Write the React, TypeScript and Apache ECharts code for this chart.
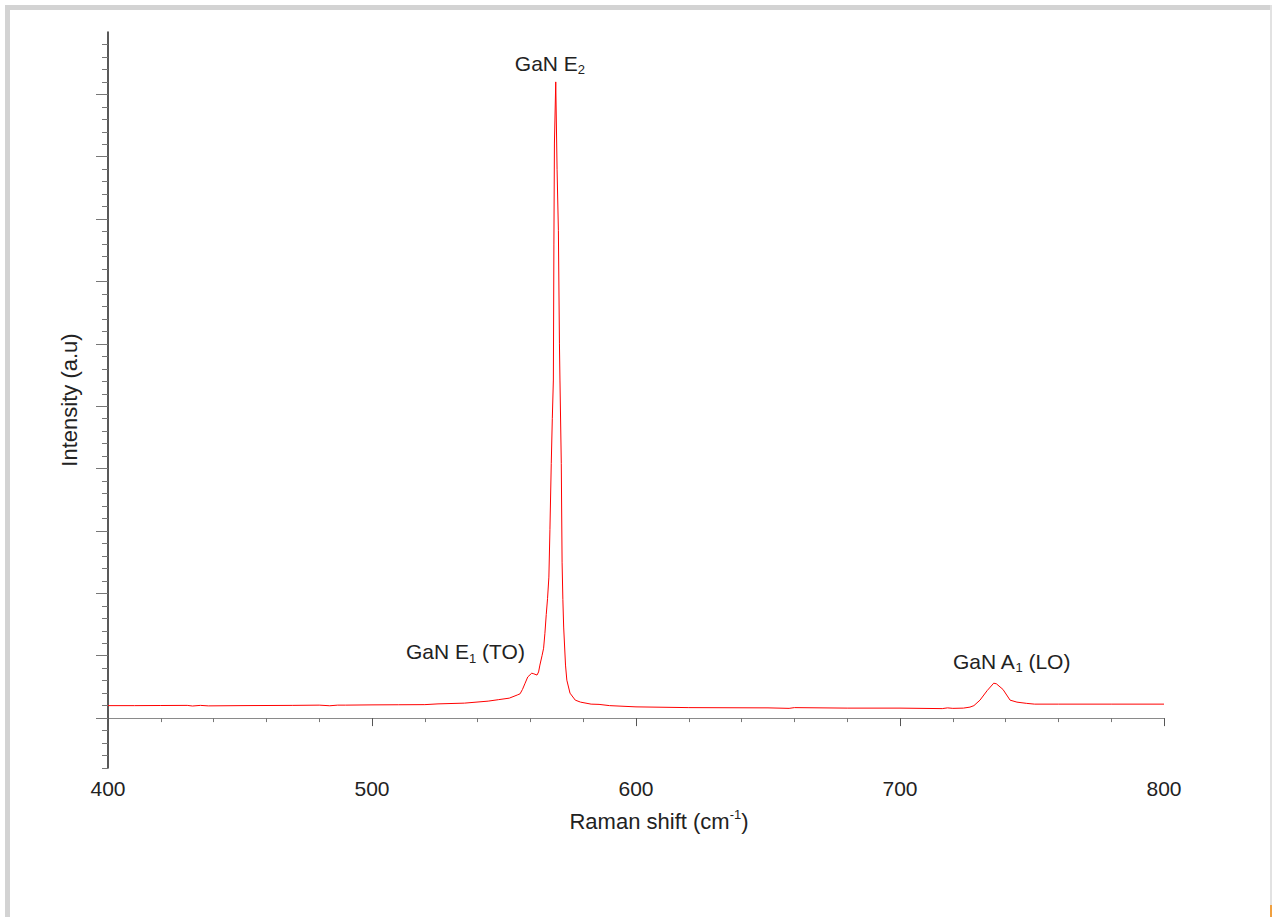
import React, { useEffect, useRef } from "react";
import * as echarts from "echarts";

// Raman shift (cm^-1) sample positions
const ramanShift: number[] = [
  400, 410, 420, 430, 432, 435, 438, 450, 470, 480, 484, 487, 490, 500, 510, 520,
  525, 535, 544, 548, 552, 555, 556.1, 557, 558, 559, 560.5, 561.3, 562.5, 563.1, 563.6,
  564.4, 565, 565.5, 566, 566.5, 567, 567.4, 567.9, 568.3, 568.7, 568.9, 569.1, 569.6,
  570.1, 570.6, 571.0, 571.2, 571.7, 572.0, 572.3, 572.6, 573.3, 573.8, 575, 577, 579,
  583, 586, 590, 600, 620, 650, 658, 660, 680, 700, 716, 718, 720, 724, 726.5, 728,
  730.3, 733, 735.5, 736.5, 739, 741.7, 744.3, 748, 751, 760, 780, 800,
];

// Intensity (a.u.) at each Raman shift
const intensity: number[] = [
  1.0, 1.0, 1.01, 1.02, 0.97, 1.02, 0.98, 1.0, 1.02, 1.04, 0.99, 1.04, 1.04, 1.06, 1.07, 1.08,
  1.14, 1.2, 1.36, 1.48, 1.6, 1.85, 1.95, 2.3, 2.8, 3.3, 3.6, 3.55, 3.45, 3.7, 4.25,
  5.0, 5.6, 6.8, 8.3, 9.6, 11.3, 15.1, 20.4, 24.0, 27.1, 38.0, 46.1, 51.0,
  44.0, 39.1, 30.0, 27.1, 20.4, 12.5, 9.5, 7.3, 4.25, 3.04, 2.0, 1.44, 1.28,
  1.12, 1.1, 1.0, 0.9, 0.84, 0.82, 0.78, 0.84, 0.8, 0.8, 0.76, 0.82, 0.78, 0.8, 0.88, 1.0,
  1.44, 2.2, 2.8, 2.75, 2.3, 1.44, 1.28, 1.18, 1.12, 1.12, 1.12, 1.12,
];

// Axis ticks (no labels on the intensity axis)
const xTicks: number[] = [400, 500, 600, 700, 800];
const yMajorTicks: number[] = [0, 5, 10, 15, 20, 25, 30, 35, 40, 45, 50];
const yMinorTicks: number[] = [
  -4, -3, -2, -1, 1, 2, 3, 4, 6, 7, 8, 9, 11, 12, 13, 14, 16, 17, 18, 19, 21, 22, 23, 24,
  26, 27, 28, 29, 31, 32, 33, 34, 36, 37, 38, 39, 41, 42, 43, 44, 46, 47, 48, 49, 51, 52, 53, 54,
];

// Peak annotations: [label rich string, x, y] in data coordinates
const peakLabels: string[] = ["{b|GaN E}{s|2}", "{b|GaN E}{s|1}{b| (TO)}", "{b|GaN A}{s|1}{b| (LO)}"];
const peakLabelX: number[] = [567.4, 535.4, 742.2];
const peakLabelY: number[] = [52.5, 5.3, 4.55];

const FONT = "'Liberation Sans', Arial, sans-serif";
const TEXT = "#222";

const richText = {
  b: { fontSize: 21, fontFamily: FONT, color: TEXT, lineHeight: 26, verticalAlign: "middle" },
  s: { fontSize: 13, fontFamily: FONT, color: TEXT, lineHeight: 14, verticalAlign: "bottom" },
  p: { fontSize: 13, fontFamily: FONT, color: TEXT, lineHeight: 14, verticalAlign: "top" },
  n: { fontSize: 22, fontFamily: FONT, color: TEXT, lineHeight: 26, verticalAlign: "middle" },
};

export default function App() {
  const ref = useRef<HTMLDivElement>(null);
  useEffect(() => {
    if (!ref.current) return;
    const chart = echarts.init(ref.current, null, { renderer: "svg" });
    const data = ramanShift.map((x, i) => [x, intensity[i]]);
    chart.setOption({
      animation: false,
      backgroundColor: "#ffffff",
      grid: { left: 108, right: 112, top: 32, bottom: 149, containLabel: false },
      xAxis: {
        type: "value",
        min: xTicks[0],
        max: xTicks[xTicks.length - 1],
        interval: 100,
        axisLine: { show: true, lineStyle: { color: "#8a8a8a", width: 1 } },
        axisTick: { show: true, length: 8, lineStyle: { color: "#555", width: 1 } },
        minorTick: { show: true, splitNumber: 5, length: 4, lineStyle: { color: "#777", width: 1 } },
        splitLine: { show: false },
        axisLabel: { fontSize: 21, color: TEXT, fontFamily: FONT, margin: 10 },
        name: "{n|Raman shift (cm}{p|-1}{n|)}",
        nameLocation: "middle",
        nameGap: 40,
        nameTextStyle: { rich: richText, padding: [0, 0, 0, 46] },
      },
      yAxis: [
        {
          type: "value",
          min: -4,
          max: 55,
          axisLine: { show: true, lineStyle: { color: "#222", width: 1.5 } },
          axisTick: { show: true, length: 6, customValues: yMinorTicks, lineStyle: { color: "#777", width: 1 } },
          axisLabel: { show: false },
          splitLine: { show: false },
          name: "Intensity (a.u)",
          nameLocation: "middle",
          nameGap: 28,
          nameTextStyle: { fontSize: 22, color: TEXT, fontFamily: FONT, padding: [0, 0, 0, 0] },
        },
        {
          type: "value",
          min: -4,
          max: 55,
          position: "left",
          offset: 0,
          axisLine: { show: false },
          axisTick: { show: true, length: 12, customValues: yMajorTicks, lineStyle: { color: "#777", width: 1 } },
          axisLabel: { show: false },
          splitLine: { show: false },
        },
      ],
      graphic: [
        { type: "rect", shape: { x: 5, y: 5, width: 5, height: 912 }, style: { fill: "#d3d3d3" }, silent: true },
        { type: "rect", shape: { x: 5, y: 5, width: 1267, height: 5 }, style: { fill: "#d3d3d3" }, silent: true },
        { type: "rect", shape: { x: 1270, y: 5, width: 2, height: 912 }, style: { fill: "#e2e2e2" }, silent: true },
        { type: "rect", shape: { x: 1270, y: 905, width: 2, height: 12 }, style: { fill: "#f0a040" }, silent: true },
      ],
      series: [
        {
          type: "line",
          data,
          yAxisIndex: 0,
          showSymbol: false,
          symbol: "none",
          smooth: false,
          lineStyle: { color: "#ff0000", width: 1 },
          markPoint: {
            symbol: "circle",
            symbolSize: 1,
            itemStyle: { color: "rgba(0,0,0,0)" },
            label: { show: true, position: "inside", rich: richText },
            data: peakLabels.map((t, i) => ({
              coord: [peakLabelX[i], peakLabelY[i]],
              label: { formatter: t },
            })),
          },
        },
      ],
    });
    return () => chart.dispose();
  }, []);
  return (
    <div
      ref={ref}
      style={{ position: "absolute", left: 0, top: 0, width: 1276, height: 917, background: "#fff" }}
    />
  );
}
